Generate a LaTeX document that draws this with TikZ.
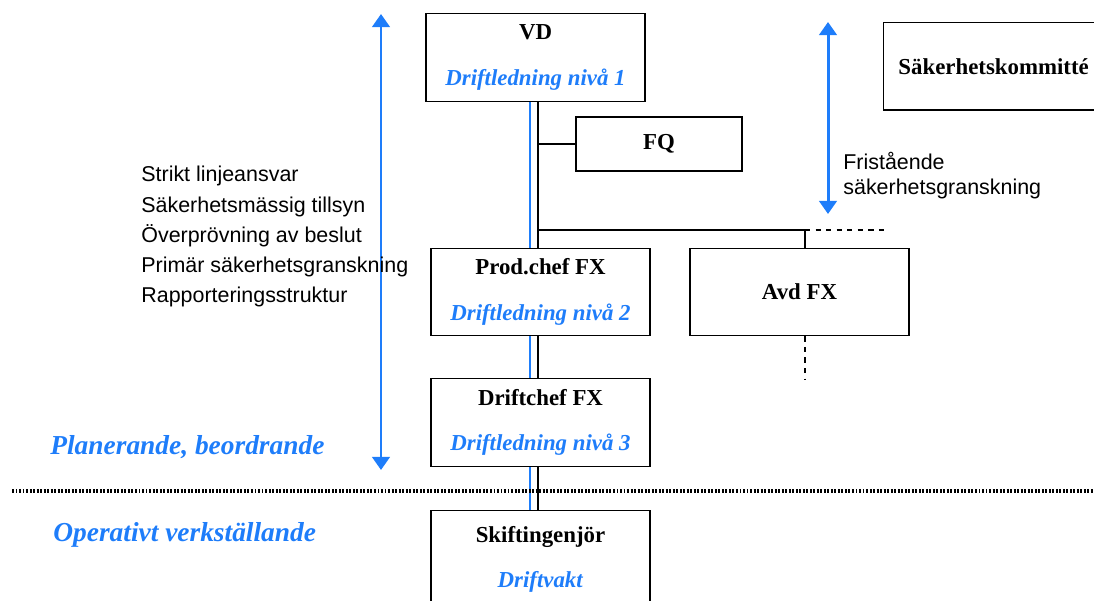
\documentclass[tikz,border=0pt]{standalone}
\usepackage{fontspec}
\setmainfont{Liberation Serif}
\newfontfamily\arial{Liberation Sans}
\usetikzlibrary{arrows.meta}
\definecolor{linjeblue}{RGB}{30,125,250}
\newcommand{\niva}[1]{\textcolor{linjeblue}{\textit{#1}}}

\begin{document}
\begin{tikzpicture}[
    unit/.style={draw, line width=0.75pt, fill=white, minimum width=4.38cm,
      minimum height=1.75cm, align=center,
      font=\fontsize{13}{16}\selectfont\bfseries},
    duty/.style={anchor=base west, inner sep=0pt,
      font=\arial\fontsize{12.2}{14}\selectfont},
    level/.style={anchor=base west, inner sep=0pt, text=linjeblue,
      font=\fontsize{15.6}{18}\selectfont\bfseries\itshape},
    reach/.style={linjeblue, line width=1.7pt,
      {Triangle[width=10pt,length=7.5pt]}-{Triangle[width=10pt,length=7.5pt]}}
  ]
  \useasboundingbox (0,0) rectangle (21.88,-12.02);
  \clip (0,0) rectangle (21.88,-12.02);

  % boxes
  \node[unit] (vd) at (10.71,-1.15) {VD\\[10pt]\niva{Driftledning nivå 1}};
  \node[unit, minimum width=3.32cm, minimum height=1.08cm] (fq) at (13.18,-2.88) {FQ};
  \node[unit, minimum width=4.4cm, anchor=north west] (kommitte) at (17.66,-0.44) {Säkerhetskommitté};
  \node[unit] (prod) at (10.81,-5.84) {Prod.chef FX\\[10pt]\niva{Driftledning nivå 2}};
  \node[unit] (avd) at (15.99,-5.84) {Avd FX};
  \node[unit] (driftchef) at (10.81,-8.45) {Driftchef FX\\[10pt]\niva{Driftledning nivå 3}};
  \node[unit, minimum height=1.95cm, anchor=north] (skift) at (10.81,-10.2) {Skiftingenjör\\[10pt]\niva{Driftvakt}};

  % line coordinates
  \coordinate (spine) at (10.76,0);
  \coordinate (blueline) at (10.6,0);
  \coordinate (bus) at (10.76,-4.6);
  \coordinate (avdtap) at (16.1,-4.6);
  \coordinate (busend) at (17.7,-4.6);
  \coordinate (avdend) at (16.1,-7.6);

  % black line of command
  \draw[line width=0.75pt] (vd.south -| spine) -- (prod.north -| spine);
  \draw[line width=0.75pt] (fq.west) -- (fq.west -| spine);
  \draw[line width=0.75pt] (bus) -- (avdtap) -- (avdtap |- avd.north);
  \draw[line width=0.75pt, dashed] (avdtap) -- (busend);
  \draw[line width=0.75pt, dashed] (avdtap |- avd.south) -- (avdend);
  \draw[line width=0.75pt] (prod.south -| spine) -- (driftchef.north -| spine);
  \draw[line width=0.75pt] (driftchef.south -| spine) -- (skift.north -| spine);

  % blue line
  \draw[linjeblue, line width=0.8pt] (vd.south -| blueline) -- (prod.north -| blueline);
  \draw[linjeblue, line width=0.8pt] (prod.south -| blueline) -- (driftchef.north -| blueline);
  \draw[linjeblue, line width=0.8pt] (driftchef.south -| blueline) -- (skift.north -| blueline);

  % border between levels
  \coordinate (borderL) at (0.24,-9.82);
  \coordinate (borderR) at (21.88,-9.82);
  \draw[line width=2.2pt, dash pattern=on 1.1pt off 0.9pt] (borderL) -- (borderR);

  % arrows
  \coordinate (leftTop) at (7.62,-0.28);
  \coordinate (leftBot) at (7.62,-9.4);
  \draw[reach] (leftTop) -- (leftBot);
  \coordinate (rightTop) at (16.56,-0.44);
  \coordinate (rightBot) at (16.56,-4.28);
  \draw[reach] (rightTop) -- (rightBot);

  % duties
  \foreach \txt [count=\i from 0] in {Strikt linjeansvar, Säkerhetsmässig tillsyn,
      Överprövning av beslut, Primär säkerhetsgranskning, Rapporteringsstruktur}
    \node[duty] (duty\i) at (2.82,-3.64-0.604*\i) {\txt};

  \node[duty] (fri1) at (16.86,-3.4) {Fristående};
  \node[duty] (fri2) at (16.86,-3.9) {säkerhetsgranskning};

  % level labels
  \node[level] (plan) at (1.0,-9.1) {Planerande, beordrande};
  \node[level] (oper) at (1.06,-10.82) {Operativt verkställande};

\end{tikzpicture}
\end{document}
